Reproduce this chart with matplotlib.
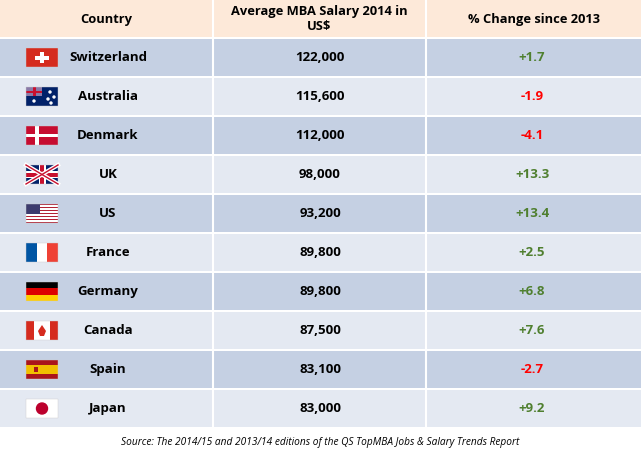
import matplotlib
matplotlib.use("Agg")
import matplotlib.pyplot as plt
from matplotlib.patches import Rectangle, Circle, Polygon

countries = ["Switzerland", "Australia", "Denmark", "UK", "US", "France", "Germany", "Canada", "Spain", "Japan"]
salaries = [122000, 115600, 112000, 98000, 93200, 89800, 89800, 87500, 83100, 83000]
changes = [1.7, -1.9, -4.1, 13.3, 13.4, 2.5, 6.8, 7.6, -2.7, 9.2]
headers = ["Country", "Average MBA Salary 2014 in\nUS$", "% Change since 2013"]
source = "Source: The 2014/15 and 2013/14 editions of the QS TopMBA Jobs & Salary Trends Report"

W, H = 641, 457
fig = plt.figure(figsize=(W/100, H/100), dpi=100)
ax = fig.add_axes([0, 0, 1, 1])
ax.set_xlim(0, W); ax.set_ylim(H, 0); ax.axis("off")
FONT = "Open Sans"
cols = [0, 213, 426, 641]
ax.add_patch(Rectangle((0, 0), W, 37, color="#FDE9D9", lw=0))
for j in range(3):
    ax.text((cols[j]+cols[j+1])/2, 19, headers[j], ha="center", va="center", fontsize=9.3,
            fontweight="bold", family=FONT, linespacing=1.25)
top, rh = 38, 39
def flag(name, x, y, w=32, h=19):
    R = lambda xx, yy, ww, hh, c: ax.add_patch(Rectangle((xx, yy), ww, hh, color=c, lw=0))
    if name == "Switzerland":
        R(x, y, w, h, "#D52B1E"); R(x+w/2-2, y+4, 4, h-8, "white"); R(x+w/2-7, y+h/2-2, 14, 4, "white")
    elif name == "Australia":
        R(x, y, w, h, "#012169"); R(x, y, 16, 9, "#8a7aa8"); R(x+6.5, y, 3, 9, "#C8102E"); R(x, y+3.5, 16, 2, "#C8102E")
        for cx, cy in [(8, 14), (24, 5), (28, 10), (22, 12), (25, 16)]:
            ax.add_patch(Circle((x+cx, y+cy), 1.0, color="white"))
    elif name == "Denmark":
        R(x, y, w, h, "#C60C30"); R(x+9, y, 3.5, h, "white"); R(x, y+h/2-1.75, w, 3.5, "white")
    elif name == "UK":
        R(x, y, w, h, "#012169")
        ax.plot([x, x+w], [y, y+h], color="white", lw=3); ax.plot([x, x+w], [y+h, y], color="white", lw=3)
        ax.plot([x, x+w], [y, y+h], color="#C8102E", lw=1); ax.plot([x, x+w], [y+h, y], color="#C8102E", lw=1)
        R(x+w/2-3.5, y, 7, h, "white"); R(x, y+h/2-3.5, w, 7, "white")
        R(x+w/2-2, y, 4, h, "#C8102E"); R(x, y+h/2-2, w, 4, "#C8102E")
    elif name == "US":
        for k in range(13):
            R(x, y+k*h/13, w, h/13, "#B22234" if k % 2 == 0 else "white")
        R(x, y, 14, 7*h/13, "#3C3B6E")
    elif name == "France":
        R(x, y, w/3, h, "#0055A4"); R(x+w/3, y, w/3, h, "white"); R(x+2*w/3, y, w/3, h, "#EF4135")
    elif name == "Germany":
        R(x, y, w, h/3, "#000000"); R(x, y+h/3, w, h/3, "#DD0000"); R(x, y+2*h/3, w, h/3, "#FFCE00")
    elif name == "Canada":
        R(x, y, w, h, "white"); R(x, y, 8, h, "#D52B1E"); R(x+w-8, y, 8, h, "#D52B1E")
        ax.add_patch(Polygon([(x+16, y+4), (x+20, y+10), (x+18, y+15), (x+14, y+15), (x+12, y+10)], color="#D52B1E", lw=0))
    elif name == "Spain":
        R(x, y, w, h, "#AA151B"); R(x, y+h/4, w, h/2, "#F1BF00"); R(x+8, y+7, 4, 5, "#AA151B")
    elif name == "Japan":
        R(x, y, w, h, "white"); ax.add_patch(Circle((x+w/2, y+h/2), 5.5, color="#BC002D"))
    ax.add_patch(Rectangle((x, y), w, h, fill=False, ec="#cccccc", lw=0.3))
for i, c in enumerate(countries):
    y0 = top + i*rh
    ax.add_patch(Rectangle((0, y0+1), W, rh-2, color="#C5D0E3" if i % 2 == 0 else "#E4E9F2", lw=0))
    cy = y0 + rh/2
    flag(c, 26, cy-9.5)
    ax.text(108, cy, c, ha="center", va="center", fontsize=9.5, fontweight="bold", family=FONT)
    ax.text(320, cy, f"{salaries[i]:,}", ha="center", va="center", fontsize=9.5, fontweight="bold", family=FONT)
    ch = changes[i]
    ax.text(532, cy, f"{ch:+.1f}", ha="center", va="center", fontsize=9.5, fontweight="bold", family=FONT,
            color="#4F7F2F" if ch > 0 else "#FF0000")
for xv in cols[1:3]:
    ax.plot([xv, xv], [0, top+10*rh], color="white", lw=1.5)
ax.text(W/2, 442, source, ha="center", va="center", fontsize=7.3, style="italic", family=FONT)
fig.savefig("out.png", dpi=100)
